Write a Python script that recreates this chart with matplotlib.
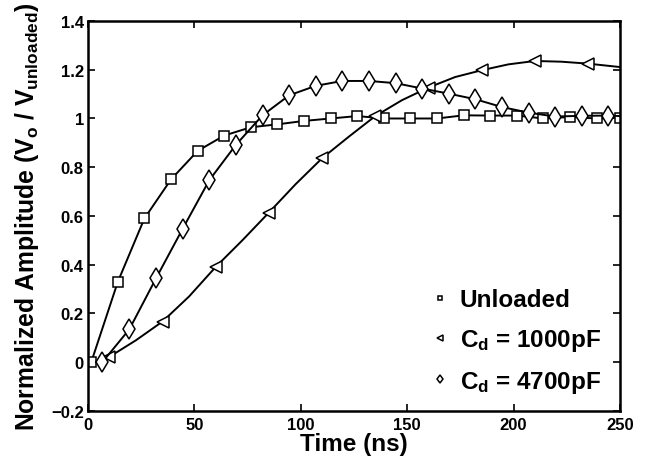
import matplotlib
matplotlib.use("Agg")
import matplotlib.pyplot as plt

plt.rcParams['font.family'] = ['Liberation Sans', 'DejaVu Sans']
plt.rcParams['font.weight'] = 'bold'
plt.rcParams['mathtext.fontset'] = 'custom'
plt.rcParams['mathtext.bf'] = 'Liberation Sans:bold'
plt.rcParams['mathtext.rm'] = 'Liberation Sans:bold'
plt.rcParams['mathtext.default'] = 'bf'

# Unloaded (markers every 12.5 ns)
t_unl = [1.5, 14, 26.5, 39, 51.5, 64, 76.5, 89, 101.5, 114, 126.5, 139, 151.5,
         164, 176.5, 189, 201.5, 214, 226.5, 239, 250]
v_unl = [0.0, 0.33, 0.59, 0.75, 0.867, 0.93, 0.964, 0.976, 0.99, 1.0, 1.01, 1.0,
         1.0, 1.0, 1.013, 1.012, 1.012, 1.0, 1.006, 1.0, 1.003]

# Cd = 4700 pF
t_47 = [4, 6.7, 19.4, 32, 44.5, 57, 69.5, 82, 94.5, 107, 119.5, 132, 144.5, 157,
        169.5, 182, 194.5, 207, 219.5, 232, 244.5, 250]
v_47 = [0.0, 0.0, 0.135, 0.345, 0.548, 0.747, 0.892, 1.013, 1.095, 1.134, 1.154,
        1.154, 1.145, 1.123, 1.102, 1.079, 1.047, 1.024, 1.008, 1.011, 1.012, 1.01]

# Cd = 1000 pF (markers every 25 ns, line points every 12.5 ns)
t_10 = [4, 10, 22.5, 35, 47.5, 60, 72.5, 85, 97.5, 110, 122.5, 135, 147.5, 160,
        172.5, 185, 197.5, 210, 222.5, 235, 250]
v_10 = [0.0, 0.022, 0.09, 0.167, 0.27, 0.391, 0.50, 0.614, 0.73, 0.837, 0.925,
        1.01, 1.075, 1.127, 1.17, 1.198, 1.222, 1.236, 1.233, 1.225, 1.211]

xticks = [0, 50, 100, 150, 200, 250]
yticks = [-0.2, 0, 0.2, 0.4, 0.6, 0.8, 1.0, 1.2, 1.4]
ytick_labels = ['\u22120.2', '0', '0.2', '0.4', '0.6', '0.8', '1', '1.2', '1.4']

fig = plt.figure(figsize=(6.55, 4.64), dpi=100)
ax = fig.add_axes([0.1344, 0.1121, 0.8122, 0.8405])

lw = 1.4
ax.plot(t_unl, v_unl, '-', color='black', lw=lw, marker='s', ms=6.5,
        mfc='white', mec='black', mew=1.1, label='Unloaded')
ax.plot(t_10, v_10, '-', color='black', lw=lw, marker='<', ms=8.5,
        mfc='white', mec='black', mew=1.1, markevery=list(range(1, len(t_10), 2)),
        label='C$_d$ = 1000pF')
ax.plot(t_47, v_47, '-', color='black', lw=lw, marker='d', ms=10,
        mfc='white', mec='black', mew=1.1, markevery=list(range(1, len(t_47) - 1)),
        label='C$_d$ = 4700pF')

ax.set_xlim(0, 250)
ax.set_ylim(-0.2, 1.4)
ax.set_xticks(xticks)
ax.set_xticklabels([str(x) for x in xticks])
ax.set_yticks(yticks)
ax.set_yticklabels(ytick_labels)
ax.tick_params(direction='in', top=True, right=True, labelsize=12, width=1.2, length=5)
ax.tick_params(axis='x', pad=4)
ax.tick_params(axis='y', pad=3)
for s in ax.spines.values():
    s.set_linewidth(1.8)

ax.set_xlabel('Time (ns)', fontsize=17.5, fontweight='bold', labelpad=0)
ax.set_ylabel('Normalized Amplitude (V$_o$ / V$_{unloaded}$)', fontsize=17.8,
              fontweight='bold', labelpad=7)

leg = ax.legend(loc='lower right', bbox_to_anchor=(1.005, -0.015), frameon=False,
                fontsize=17.5, markerscale=0.45, handlelength=1.0, handletextpad=0.3,
                labelspacing=0.65)
for line in leg.get_lines():
    line.set_linestyle('none')
for txt in leg.get_texts():
    txt.set_fontweight('bold')

fig.savefig('out.png', dpi=100)
